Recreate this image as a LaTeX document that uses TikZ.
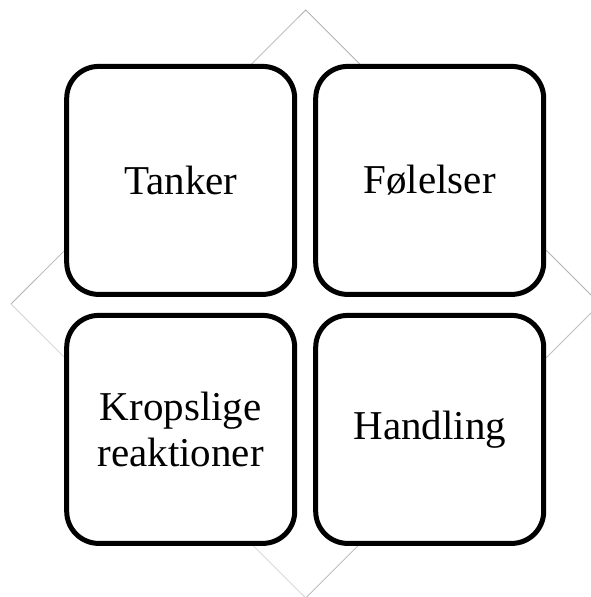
\documentclass[tikz,border=0pt]{standalone}
\usepackage{fontspec}
\setmainfont{Liberation Serif}
\usetikzlibrary{positioning}

\tikzset{
  felt/.style={draw, fill=white, line width=5pt, rounded corners=32pt, minimum width=228pt,
    minimum height=228pt, align=center, font=\fontsize{41}{46}\selectfont}
}

\begin{document}
\begin{tikzpicture}[x=1pt, y=-1pt]
    \useasboundingbox (0,0) rectangle (591,597);
    \clip (0,0) rectangle (591,597);
    % the diamond behind, lighter towards the lower left
    \coordinate (top) at (305.7,10);
    \coordinate (rgt) at (600,304);
    \coordinate (bot) at (305.7,598);
    \coordinate (lft) at (11,304);
    \draw[gray!60, line width=.8pt] (lft) -- (top) -- (rgt);
    \draw[gray!50, line width=.8pt] (rgt) -- (bot);
    \draw[gray!35, line width=.8pt] (bot) -- (lft);
    % four boxes
    \node[felt] (tanker) at (180.7,180.4) {Tanker};
    \node[felt, right=16pt of tanker] (folelser) {Følelser};
    \node[felt, below=16pt of tanker] (krop) {Kropslige\\reaktioner};
    \node[felt, below=16pt of folelser] (handling) {Handling};
  \end{tikzpicture}
\end{document}
